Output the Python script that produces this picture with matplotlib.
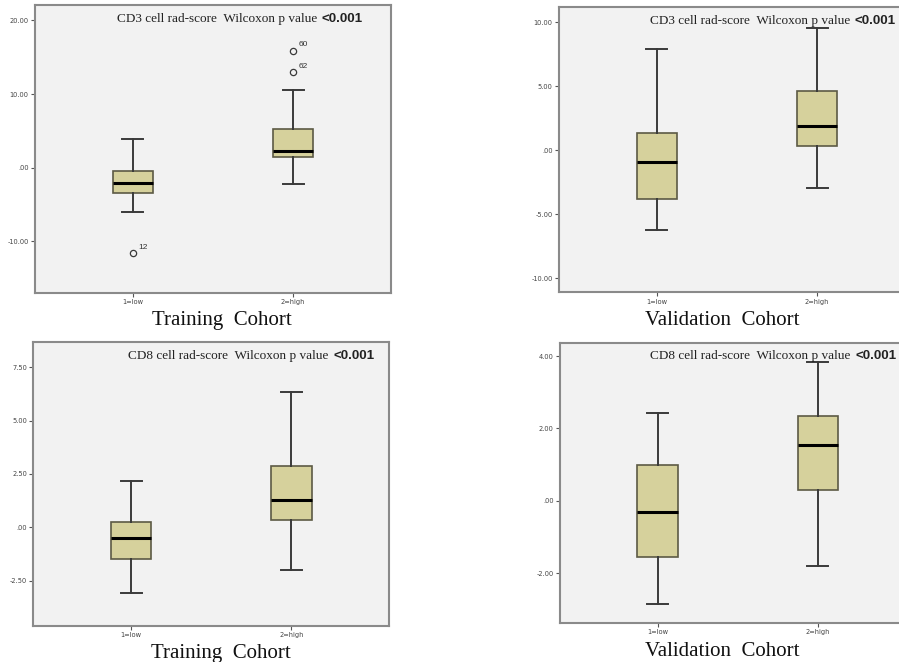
import matplotlib
matplotlib.use('Agg')
import matplotlib.pyplot as plt

# category labels
groups = ['1=low', '2=high']

# five-number summaries: (whislo, q1, med, q3, whishi)
cd3_train = [(-6.1, -3.5, -2.1, -0.5, 3.9), (-2.2, 1.4, 2.2, 5.3, 10.5)]
cd3_valid = [(-6.27, -3.83, -0.96, 1.3, 7.9), (-2.92, 0.34, 1.88, 4.61, 9.53)]
cd8_train = [(-3.06, -1.5, -0.5, 0.25, 2.16), (-2.02, 0.34, 1.29, 2.86, 6.36)]
cd8_valid = [(-2.86, -1.55, -0.32, 0.99, 2.43), (-1.80, 0.29, 1.54, 2.34, 3.83)]

# outliers (value, case id) per group, only in the CD3 training panel
cd3_train_out = [[(-11.6, '12')], [(15.9, '60'), (13.0, '62')]]

cd3_train_ticks = [-10, 0, 10, 20]
cd3_valid_ticks = [-10, -5, 0, 5, 10]
cd8_train_ticks = [-2.5, 0, 2.5, 5, 7.5]
cd8_valid_ticks = [-2, 0, 2, 4]

BOX_FACE = '#D6D19C'
BOX_EDGE = '#5C5A45'
PANEL_BG = '#F2F2F2'
SPINE = '#8A8A8A'


def fmt_tick(v):
    s = f'{v:.2f}'
    if s.startswith('0.'):
        s = s[1:]
    elif s.startswith('-0.'):
        s = '-' + s[2:]
    return s


def draw_panel(ax, summaries, ticks, ylim, marker, title_end, outliers=None):
    stats = []
    for i, (lo, q1, med, q3, hi) in enumerate(summaries):
        fl = [v for v, _ in outliers[i]] if outliers else []
        stats.append(dict(whislo=lo, q1=q1, med=med, q3=q3, whishi=hi,
                          fliers=fl, label=groups[i]))
    ax.bxp(stats, positions=[1, 2], widths=0.25, patch_artist=True,
           boxprops=dict(facecolor=BOX_FACE, edgecolor=BOX_EDGE, linewidth=1.2),
           medianprops=dict(color='black', linewidth=2.2),
           whiskerprops=dict(color='#3A3A3A', linewidth=1.4),
           capprops=dict(color='#3A3A3A', linewidth=1.4),
           capwidths=0.13,
           flierprops=dict(marker='o', markersize=4.5, markerfacecolor='none',
                           markeredgecolor='#3A3A3A', markeredgewidth=0.9))
    if outliers:
        for i, pts in enumerate(outliers):
            for v, lab in pts:
                ax.annotate(lab, (i + 1, v), xytext=(4, 3), textcoords='offset points',
                            fontsize=6, color='#333333', family='Liberation Sans')
    ax.set_xlim(0.39, 2.61)
    ax.set_ylim(*ylim)
    ax.set_facecolor(PANEL_BG)
    for sp in ax.spines.values():
        sp.set_color(SPINE)
        sp.set_linewidth(1.5)
    ax.set_yticks(ticks)
    ax.set_yticklabels([fmt_tick(t) for t in ticks])
    ax.tick_params(axis='both', labelsize=4.8, length=3, width=0.8,
                   colors='#555555', labelcolor='#444444', pad=1.5)
    p = ax.text(title_end, 0.953, '<0.001', transform=ax.transAxes, fontsize=9.6,
                family='Liberation Sans', weight='bold', ha='right', va='center',
                color='#222222')
    ax.annotate(f'{marker} cell rad-score  Wilcoxon p value ', xy=(0, 0.5),
                xycoords=p, xytext=(-1, 0), textcoords='offset points',
                fontsize=9.5, family='Liberation Serif', ha='right', va='center',
                color='#222222')


fig = plt.figure(figsize=(8.99, 6.62), dpi=100)
W, H = 899.0, 662.0


def add_axes(left, top, bottom, width=356):
    return fig.add_axes([left / W, 1 - bottom / H, width / W, (bottom - top) / H])


ax1 = add_axes(35, 5, 293)
ax2 = add_axes(559, 7.3, 292.3)
ax3 = add_axes(33.3, 342.3, 626)
ax4 = add_axes(559.7, 342.7, 623)

draw_panel(ax1, cd3_train, cd3_train_ticks, (-17.05, 22.1), 'CD3', 1 - 28 / 356, cd3_train_out)
draw_panel(ax2, cd3_valid, cd3_valid_ticks, (-11.1, 11.15), 'CD3', 1 - 19 / 356)
draw_panel(ax3, cd8_train, cd8_train_ticks, (-4.63, 8.67), 'CD8', 1 - 15 / 356)
draw_panel(ax4, cd8_valid, cd8_valid_ticks, (-3.38, 4.37), 'CD8', 1 - 19 / 356)

label_kw = dict(fontsize=15, family='Liberation Serif', ha='center', va='baseline',
                color='#111111')
fig.text(222 / W, 1 - 325 / H, 'Training  Cohort', **label_kw)
fig.text(722 / W, 1 - 325 / H, 'Validation  Cohort', **label_kw)
fig.text(221 / W, 1 - 658 / H, 'Training  Cohort', **label_kw)
fig.text(722 / W, 1 - 656 / H, 'Validation  Cohort', **label_kw)

fig.savefig('out.png', dpi=100, facecolor='white')
